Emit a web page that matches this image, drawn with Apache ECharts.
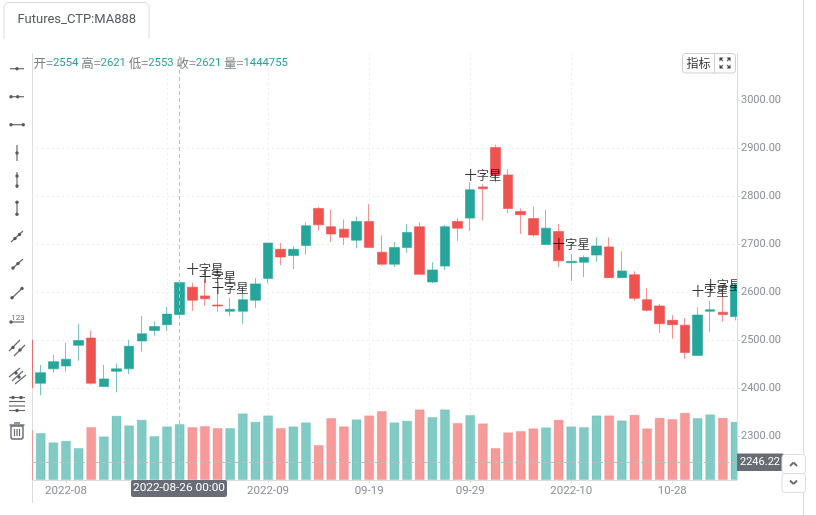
<!DOCTYPE html>
<html>
<head>
<meta charset="utf-8">
<title>Futures_CTP:MA888</title>
<style>html,body{margin:0;padding:0;background:#fff}#kline{width:816px;height:515px}</style>
<script src="https://cdn.jsdelivr.net/npm/echarts@6/dist/echarts.min.js"></script>
</head>
<body>
<div id="kline"></div>
<script>
// Daily session bars, oldest first. The first bar is only partly inside the plot window.
const opens  = [2501,2411,2441,2447,2490,2505,2404,2436,2441,2499,2521,2533,2554,2611,2593,2574,2561,2561,2584,2629,2690,2677,2698,2775,2737,2732,2709,2748,2684,2659,2694,2737,2622,2655,2748,2755,2820,2902,2845,2769,2754,2700,2727,2662,2663,2678,2695,2631,2637,2585,2572,2542,2532,2469,2561,2559,2550];
const closes = [2401,2433,2456,2461,2500,2411,2420,2441,2488,2514,2529,2555,2621,2584,2587,2572,2565,2585,2618,2703,2674,2690,2739,2741,2722,2715,2748,2694,2659,2694,2725,2638,2647,2737,2734,2814,2816,2845,2775,2762,2720,2734,2666,2665,2673,2697,2631,2645,2588,2563,2535,2533,2475,2553,2564,2554,2616];
const lows   = [2399,2386,2433,2435,2458,2408,2403,2392,2430,2477,2510,2520,2553,2562,2572,2560,2551,2535,2568,2619,2657,2649,2679,2729,2705,2699,2692,2694,2656,2653,2683,2637,2620,2647,2707,2728,2750,2829,2765,2722,2716,2699,2653,2624,2632,2664,2631,2631,2583,2560,2516,2504,2462,2469,2518,2539,2542];
const highs  = [2505,2449,2470,2495,2534,2520,2449,2452,2501,2551,2540,2570,2621,2620,2628,2611,2589,2597,2630,2704,2703,2696,2746,2778,2773,2752,2758,2784,2719,2705,2743,2746,2663,2741,2755,2830,2825,2908,2857,2775,2779,2772,2743,2680,2677,2715,2715,2686,2644,2609,2576,2553,2547,2569,2582,2595,2616];
const volumes = [1290000,1213000,973000,1014000,826000,1367000,1127000,1659000,1411000,1556000,1135000,1385000,1444755,1367000,1393000,1342000,1342000,1721000,1504000,1669000,1342000,1385000,1489000,903000,1600000,1385000,1566000,1669000,1780000,1489000,1530000,1824000,1625000,1824000,1471000,1677000,1463000,826000,1231000,1264000,1334000,1360000,1556000,1385000,1367000,1669000,1669000,1540000,1685000,1334000,1607000,1574000,1736000,1600000,1695000,1607000,1504000];

const tickBars   = [3, 11, 19, 27, 35, 43, 51];
const tickLabels = ['2022-08', '', '2022-09', '09-19', '09-29', '2022-10', '10-28'];
const priceTicks = [2300, 2400, 2500, 2600, 2700, 2800, 2900, 3000];
const dojiBars   = [14, 15, 16, 36, 43, 54, 55];
const dojiName   = '十字星';

const hoverBar   = 12;
const hoverDate  = '2022-08-26 00:00';
const hoverPrice = 2246.22;

const UP = '#26a69a', DOWN = '#ef5350';
const UP_SOFT = 'rgba(38,166,154,0.58)', DOWN_SOFT = 'rgba(239,83,80,0.58)';
const TXT = '#8a8f9c', AXIS = '#dcdcdc', ICON = '#666b70';
const FONT = 'Roboto,"Noto Sans CJK SC",sans-serif';
const CJK = '"Noto Sans CJK SC",sans-serif';
const PRICE_MIN = 2209.4, PRICE_MAX = 3099;

const candleData = opens.map((o, i) => [i, o, closes[i], lows[i], highs[i]]);
const volumeData = volumes.map((v, i) => ({
  value: [i, v],
  itemStyle: {
    color: closes[i] >= opens[i] ? UP_SOFT : DOWN_SOFT,
    borderColor: closes[i] >= opens[i] ? 'rgba(38,166,154,0.22)' : 'rgba(239,83,80,0.22)',
    borderWidth: 1
  }
}));
const dojiData = dojiBars.map(i => [i, highs[i]]);

// Toolbar glyph helpers
const seg = (x1, y1, x2, y2, w) => ({ type: 'line', z: 40, silent: true, shape: { x1, y1, x2, y2 }, style: { stroke: ICON, lineWidth: w || 1.2 } });
const dot = (cx, cy, r) => ({ type: 'circle', z: 41, silent: true, shape: { cx, cy, r: r || 1.7 }, style: { fill: '#555a60' } });
const wedge = (x1, y1, x2, y2, x3, y3) => ({ type: 'polygon', z: 42, silent: true, shape: { points: [[x1, y1], [x2, y2], [x3, y3]] }, style: { fill: '#444' } });

const tools = [
  seg(10, 68.7, 24, 68.7), dot(17, 68.7),
  seg(10, 96.7, 24, 96.7), dot(11, 96.7), dot(17.7, 96.7),
  seg(10, 124.7, 24, 124.7), dot(11, 124.7), dot(23.3, 124.7),
  seg(17, 145, 17, 161), dot(17, 153),
  seg(17, 172, 17, 188), dot(17, 176), dot(17, 186),
  seg(17, 202, 17, 215), dot(17, 202.3), dot(17, 214.3),
  seg(11, 242, 23, 231), dot(15, 238.5), dot(19.5, 234.5),
  seg(12, 269, 23, 259), dot(13, 268), dot(18, 263.5),
  seg(12, 298, 22.5, 288), dot(12, 297.7), dot(22, 288.5),
  { type: 'text', z: 40, silent: true, style: { x: 18, y: 318, text: '123', font: '8px ' + FONT, fill: ICON, align: 'center', verticalAlign: 'middle' } },
  seg(11, 322, 24, 322), dot(11, 322),
  seg(9, 351, 20, 340), dot(13, 347.5), seg(14, 356, 25, 345), dot(20, 350),
  seg(9, 377, 20, 368), seg(12, 381, 23, 371), seg(15, 384, 26, 375), dot(16, 373), dot(19, 377),
  seg(9, 397.5, 25, 397.5), seg(9, 401.5, 25, 401.5), seg(9, 406, 25, 406), seg(9, 410.5, 25, 410.5),
  dot(13, 397.5), dot(21, 397.5), dot(17, 410.5),
  { type: 'rect', z: 40, silent: true, shape: { x: 11, y: 426, width: 12, height: 13, r: [0, 0, 2, 2] }, style: { fill: 'none', stroke: ICON, lineWidth: 1.4 } },
  seg(9.5, 425, 24.5, 425, 1.4), seg(14, 423, 20, 423, 1.4),
  seg(14.5, 429, 14.5, 436), seg(17, 429, 17, 436), seg(19.5, 429, 19.5, 436)
];

const chevrons = [
  seg(790, 466, 793.5, 462.5, 1.8), seg(793.5, 462.5, 797, 466, 1.8),
  seg(790, 480.5, 793.5, 484, 1.8), seg(793.5, 484, 797, 480.5, 1.8)
];
const fullscreenIcon = [
  wedge(719.5, 57.5, 723.5, 57.5, 719.5, 61.5), wedge(730.5, 57.5, 726.5, 57.5, 730.5, 61.5),
  wedge(719.5, 68.5, 723.5, 68.5, 719.5, 64.5), wedge(730.5, 68.5, 726.5, 68.5, 730.5, 64.5),
  seg(720, 58, 723, 61, 1.2), seg(730, 58, 727, 61, 1.2), seg(720, 68, 723, 65, 1.2), seg(730, 68, 727, 65, 1.2)
];

// One-line quote header for the hovered bar
const quote = [['开', opens[hoverBar]], ['高', highs[hoverBar]], ['低', lows[hoverBar]], ['收', closes[hoverBar]], ['量', volumes[hoverBar]]]
  .map(([k, v]) => `{k|${k}=}{v|${v}}`).join('{k| }');

const chart = echarts.init(document.getElementById('kline'), null, { renderer: 'canvas' });
chart.setOption({
  animation: false,
  backgroundColor: '#fff',
  grid: { left: 32, right: 79, top: 53, bottom: 35 },
  xAxis: {
    type: 'value', min: 0.311, max: 56.12,
    axisLine: { onZero: false, lineStyle: { color: AXIS, width: 1 } },
    axisTick: { show: true, length: 3, lineStyle: { color: AXIS }, customValues: tickBars },
    axisLabel: {
      customValues: tickBars, color: TXT, fontSize: 11.5, fontFamily: FONT, margin: 5,
      formatter: v => tickLabels[tickBars.indexOf(v)] || ''
    },
    splitLine: { show: true, showMinLine: false, showMaxLine: false, lineStyle: { color: '#efefef', type: [2, 3] } }
  },
  yAxis: [{
    // price scale: only the dotted grid is drawn from this one
    type: 'value', position: 'right', min: PRICE_MIN, max: PRICE_MAX,
    axisLine: { show: false }, axisLabel: { show: false },
    axisTick: { show: false, customValues: priceTicks },
    splitLine: { show: true, showMinLine: false, showMaxLine: false, lineStyle: { color: '#efefef', type: [2, 3] } }
  }, {
    type: 'value', position: 'right', min: 0, max: 11016600, show: false
  }, {
    // same price scale, lifted above the right-hand margin for its labels
    type: 'value', position: 'right', min: PRICE_MIN, max: PRICE_MAX, z: 20,
    splitLine: { show: false },
    axisLine: { show: true, onZero: false, lineStyle: { color: AXIS } },
    axisTick: { show: true, length: 3, lineStyle: { color: AXIS }, customValues: priceTicks },
    axisLabel: {
      customValues: priceTicks, color: TXT, fontSize: 11, fontFamily: FONT, margin: 4,
      padding: [2, 0, 0, 0],
      formatter: v => v.toFixed(2)
    }
  }],
  series: [{
    name: 'volume', type: 'bar', yAxisIndex: 1, barWidth: 10, z: 1, clip: true, silent: true,
    data: volumeData, encode: { x: 0, y: 1 }
  }, {
    name: 'MA888', type: 'candlestick', yAxisIndex: 0, barWidth: 10, z: 2, clip: true, silent: true,
    data: candleData, encode: { x: 0, y: [1, 2, 3, 4] },
    itemStyle: {
      color: UP, color0: DOWN,
      borderColor: 'rgba(38,166,154,0.62)', borderColor0: 'rgba(239,83,80,0.62)', borderWidth: 1
    },
    markLine: {
      silent: true, symbol: 'none', animation: false, label: { show: false },
      lineStyle: { color: '#bdbdbd', type: [4, 3], width: 1 },
      data: [{ xAxis: hoverBar }, { yAxis: hoverPrice }]
    }
  }, {
    name: dojiName, type: 'scatter', yAxisIndex: 0, symbolSize: 1, z: 5, silent: true,
    itemStyle: { color: 'rgba(0,0,0,0)' },
    data: dojiData,
    label: {
      show: true, position: 'top', distance: 3, formatter: dojiName,
      color: '#000', fontSize: 12.3, fontFamily: CJK
    }
  }],
  graphic: [
    // margins that hide anything running past the plot window
    { type: 'rect', z: 10, silent: true, shape: { x: 0, y: 40, width: 32, height: 475 }, style: { fill: '#fff' } },
    { type: 'rect', z: 10, silent: true, shape: { x: 737, y: 40, width: 66, height: 475 }, style: { fill: '#fff' } },
    // left rail sits behind the marks
    { type: 'line', z: 0, silent: true, shape: { x1: 32.5, y1: 53, x2: 32.5, y2: 480 }, style: { stroke: AXIS } },
    { type: 'line', z: 39, silent: true, shape: { x1: 32.5, y1: 480, x2: 32.5, y2: 503 }, style: { stroke: AXIS } },
    // tab
    { type: 'polyline', z: 40, silent: true, shape: { points: [[4, 39], [4, 6], [7, 2.5], [146, 2.5], [149, 6], [149, 39]] }, style: { fill: 'none', stroke: '#dddddd', lineWidth: 1 } },
    { type: 'text', z: 40, silent: true, style: { x: 17.5, y: 19.5, text: 'Futures_CTP:MA888', font: '13px ' + FONT, fill: '#555a66', verticalAlign: 'middle' } },
    // outer frame line
    { type: 'line', z: 39, silent: true, shape: { x1: 803.5, y1: 0, x2: 803.5, y2: 515 }, style: { stroke: AXIS } },
    // quote header
    {
      type: 'text', z: 40, silent: true,
      style: {
        x: 33.5, y: 63, text: quote, verticalAlign: 'middle', font: '11.3px ' + FONT,
        rich: {
          k: { fill: '#7b8089', font: '12.5px ' + CJK },
          v: { fill: UP, font: '11.3px ' + FONT }
        }
      }
    },
    // indicator / fullscreen buttons
    { type: 'rect', z: 40, silent: true, shape: { x: 682.5, y: 53.5, width: 53, height: 19.5, r: 3 }, style: { fill: '#fff', stroke: '#cfcfcf', lineWidth: 1 } },
    { type: 'line', z: 41, silent: true, shape: { x1: 714.5, y1: 53.5, x2: 714.5, y2: 73 }, style: { stroke: '#cfcfcf' } },
    { type: 'text', z: 41, silent: true, style: { x: 698.5, y: 63.5, text: '指标', font: '12px ' + CJK, fill: '#333', align: 'center', verticalAlign: 'middle' } },
    ...fullscreenIcon,
    // crosshair readouts
    { type: 'rect', z: 40, silent: true, shape: { x: 131, y: 480, width: 96, height: 17, r: 2 }, style: { fill: '#686c75' } },
    { type: 'text', z: 41, silent: true, style: { x: 179, y: 488.5, text: hoverDate, font: '11.8px ' + FONT, fill: '#fff', align: 'center', verticalAlign: 'middle' } },
    { type: 'rect', z: 40, silent: true, shape: { x: 737, y: 453.5, width: 47, height: 17.5, r: [0, 2, 2, 0] }, style: { fill: '#686c75' } },
    { type: 'text', z: 41, silent: true, style: { x: 740, y: 462.5, text: hoverPrice.toFixed(2), font: '11px ' + FONT, fill: '#fff', verticalAlign: 'middle' } },
    // scroll buttons
    { type: 'rect', z: 42, silent: true, shape: { x: 782, y: 454.5, width: 23.5, height: 19, r: 3 }, style: { fill: '#fff', stroke: '#dddddd' } },
    { type: 'rect', z: 42, silent: true, shape: { x: 782, y: 473.5, width: 23.5, height: 19, r: 3 }, style: { fill: '#fff', stroke: '#dddddd' } },
    ...chevrons.map(s => ({ ...s, z: 43 })),
    ...tools
  ]
});
</script>
</body>
</html>
